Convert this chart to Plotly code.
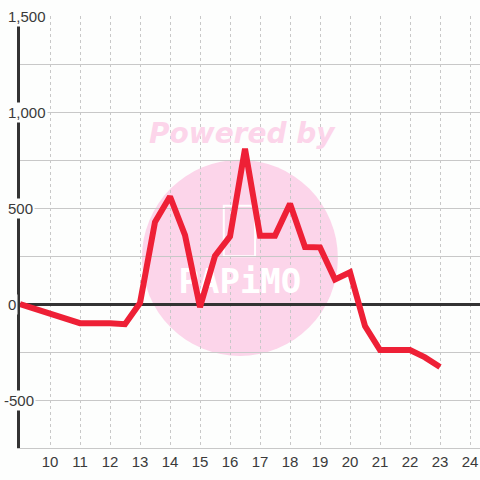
import plotly.graph_objects as go

# hour of day vs. value
hours = [9, 11, 12, 12.5, 13, 13.5, 14, 14.5, 15, 15.5, 16, 16.5, 17, 17.5,
         18, 18.5, 19, 19.5, 20, 20.5, 21, 22, 22.5, 23]
values = [0, -100, -100, -105, 5, 427, 560, 359, -16, 250, 352, 808, 356, 356,
          522, 297, 295, 128, 165, -115, -240, -240, -278, -328]

x_ticks = list(range(10, 25))
y_ticks = [-500, 0, 500, 1000, 1500]
y_labels = ["-500", "0", "500", "1,000", "1,500"]

BG = "#fdfefd"
PINK = "#fcd5ea"
TXT = "#3a3a3a"

fig = go.Figure()

# watermark logo text (under the line)
fig.add_trace(go.Scatter(
    x=[16.33], y=[100], mode="text", text=["PAPiMO"],
    textfont=dict(family="DejaVu Sans Mono", size=34, color="white", weight="bold"),
    hoverinfo="skip", showlegend=False,
))

fig.add_trace(go.Scatter(
    x=hours, y=values, mode="lines",
    line=dict(color="#ee2036", width=6),
    showlegend=False,
))

# watermark circle + icon
fig.add_shape(type="circle", xref="paper", yref="paper",
              x0=0.265, x1=0.691, y0=0.213, y1=0.667,
              fillcolor=PINK, line_width=0, layer="below")
fig.add_shape(type="rect", xref="paper", yref="paper",
              x0=0.443, x1=0.511, y0=0.444, y1=0.561,
              line=dict(color="white", width=2), fillcolor=PINK, layer="below")

fig.add_annotation(
    text="Powered by", xref="paper", yref="paper", x=0.483, y=0.727,
    xanchor="center", yanchor="middle", showarrow=False,
    font=dict(family="DejaVu Sans", size=28, color=PINK, weight="bold", style="italic"),
)

for v, lab in zip(y_ticks, y_labels):
    fig.add_annotation(
        text=lab, xref="paper", yref="y", x=-0.031, y=v,
        xanchor="left", yanchor="middle", showarrow=False,
        xshift=-4 if lab.startswith("-") else 0,
        bgcolor=BG, borderpad=1,
        font=dict(family="Liberation Sans", size=15, color=TXT),
    )

fig.update_xaxes(
    range=[9, 24.333], tickvals=x_ticks, ticks="",
    showgrid=True, gridcolor="#c8c8c8", griddash="dot", gridwidth=1,
    showline=True, linecolor="#c8c8c8", linewidth=1,
    zeroline=False, ticklabeloverflow="allow",
    tickfont=dict(family="Liberation Sans", size=15, color=TXT),
)
fig.update_yaxes(
    range=[-750, 1500], dtick=250, showticklabels=False, ticks="",
    showgrid=True, gridcolor="#c8c8c8", gridwidth=1,
    zeroline=True, zerolinecolor="#333333", zerolinewidth=3,
    showline=True, linecolor="#333333", linewidth=3,
)

fig.update_layout(
    width=480, height=480,
    margin=dict(l=20, r=0, t=16, b=32),
    plot_bgcolor=BG, paper_bgcolor=BG,
)

# drop the default 8px page margin so the figure fills the window
fig.write_html("out.html", config={"displayModeBar": False},
               post_script="document.body.style.margin='0';")
